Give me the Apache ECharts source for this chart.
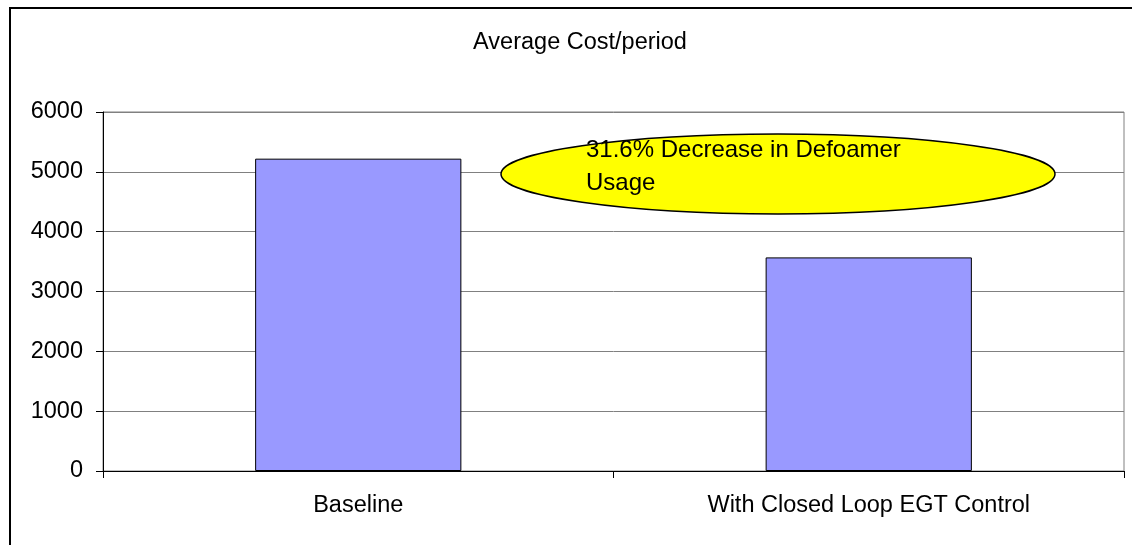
<!DOCTYPE html>
<html>
<head>
<meta charset="utf-8">
<script src="https://cdn.jsdelivr.net/npm/echarts@6/dist/echarts.min.js"></script>
<style>
  html, body { margin: 0; padding: 0; background: #fff; }
  #chart { width: 1132px; height: 545px; }
</style>
</head>
<body>
<div id="chart"></div>
<script>
// Average cost per period, before and after closed-loop EGT control
const categories = ['Baseline', 'With Closed Loop EGT Control'];
const costValues = [5220, 3570];
const yTicks = { min: 0, max: 6000, interval: 1000 };
const chartTitle = 'Average Cost/period';

// Percentage reduction shown in the callout, derived from the two bars
const decreasePct = ((1 - costValues[1] / costValues[0]) * 100).toFixed(1);
const calloutText = decreasePct + '% Decrease in Defoamer\nUsage';

const FONT = '"Liberation Sans", Arial, sans-serif';
const chart = echarts.init(document.getElementById('chart'), null, { renderer: 'canvas' });

chart.setOption({
  backgroundColor: '#ffffff',
  animation: false,
  textStyle: { fontFamily: FONT },
  title: {
    text: chartTitle,
    left: 575,
    top: 26,
    textAlign: 'center',
    textStyle: { fontFamily: FONT, fontSize: 23.5, fontWeight: 'normal', color: '#000' }
  },
  grid: {
    left: 103,
    right: 8,
    top: 112,
    bottom: 74,
    show: true,
    borderColor: '#808080',
    borderWidth: 1,
    backgroundColor: '#ffffff'
  },
  xAxis: {
    type: 'category',
    data: categories,
    axisLine: { lineStyle: { color: '#000', width: 1 } },
    axisTick: { show: true, length: 7, lineStyle: { color: '#000' } },
    axisLabel: { fontFamily: FONT, fontSize: 23.5, color: '#000', margin: 23 },
    splitLine: { show: false }
  },
  yAxis: {
    type: 'value',
    min: yTicks.min,
    max: yTicks.max,
    interval: yTicks.interval,
    axisLine: { show: true, lineStyle: { color: '#000', width: 1 } },
    axisTick: { show: true, length: 7, lineStyle: { color: '#000' } },
    axisLabel: {
      fontFamily: FONT, fontSize: 23.5, color: '#000', margin: 20,
      formatter: (v) => String(v)
    },
    splitLine: { show: true, lineStyle: { color: '#808080', width: 1 } }
  },
  series: [{
    type: 'bar',
    data: costValues,
    barWidth: '40.4%',
    itemStyle: { color: '#9999ff', borderColor: '#000', borderWidth: 1 }
  }],
  graphic: [
    {
      // outer chart frame
      type: 'rect',
      shape: { x: 10, y: 8, width: 1300, height: 700 },
      style: { fill: null, stroke: '#000', lineWidth: 2 },
      z: 100
    },
    {
      type: 'ellipse',
      shape: { cx: 778, cy: 174, rx: 277, ry: 40 },
      style: { fill: '#ffff00', stroke: '#000', lineWidth: 1.5 },
      z: 50
    },
    {
      type: 'text',
      x: 586,
      y: 134,
      style: {
        text: calloutText,
        fontFamily: FONT,
        fontSize: 24,
        lineHeight: 33,
        fill: '#000',
        textAlign: 'left',
        textVerticalAlign: 'top'
      },
      z: 51
    }
  ]
});
</script>
</body>
</html>
